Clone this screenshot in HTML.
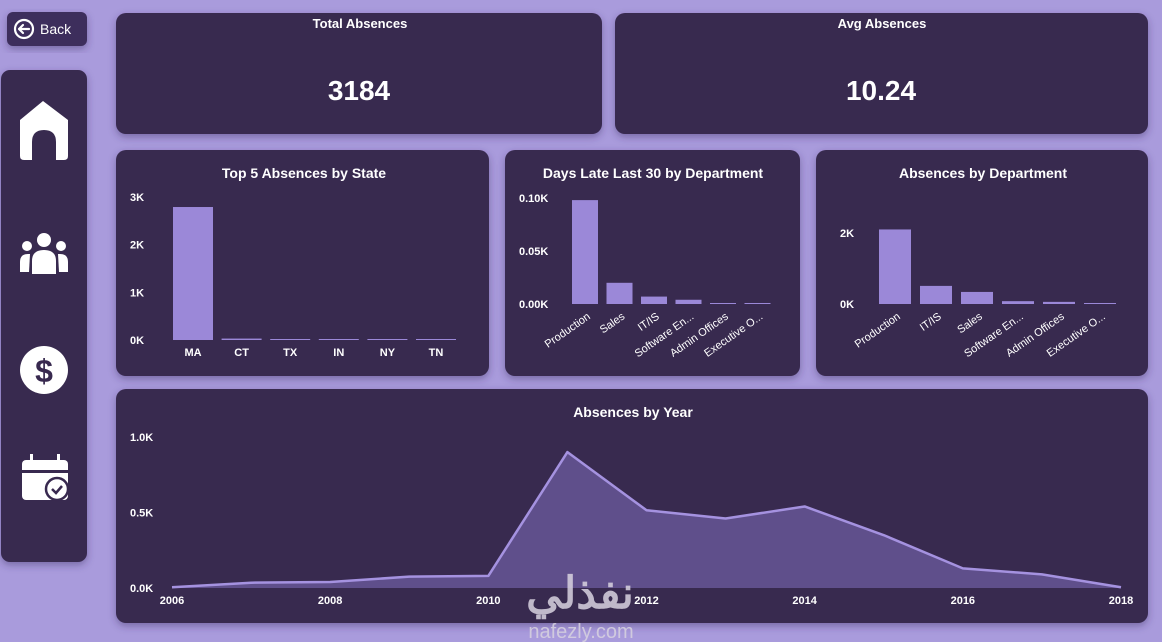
<!DOCTYPE html>
<html><head><meta charset="utf-8">
<style>
html,body{margin:0;padding:0;width:1162px;height:642px;overflow:hidden;background:#a99bdc;font-family:"Liberation Sans",sans-serif;}
svg text{font-family:"Liberation Sans","Noto Sans CJK SC",sans-serif;}
</style></head>
<body>
<svg id="dash" width="1162" height="642" viewBox="0 0 1162 642" xmlns="http://www.w3.org/2000/svg">
<defs>
<filter id="sh" x="-10%" y="-10%" width="120%" height="130%"><feDropShadow dx="0" dy="3" stdDeviation="4" flood-color="#3a2b60" flood-opacity="0.45"/></filter>
</defs>
<rect width="1162" height="642" fill="#a99bdc"/>
<!-- back button -->
<g>
<rect x="7" y="12" width="80" height="34" rx="6" fill="#3d2e5c" filter="url(#sh)"/>
<circle cx="24" cy="29" r="9" fill="none" stroke="#fff" stroke-width="2.2"/>
<path d="M29 29 H19 M23 25 L19 29 L23 33" stroke="#fff" stroke-width="2.2" fill="none" stroke-linecap="round" stroke-linejoin="round"/>
<text x="40" y="34" fill="#fff" font-size="14">Back</text>
</g>
<!-- sidebar -->
<g>
<rect x="1" y="70" width="86" height="492" rx="9" fill="#38294f" filter="url(#sh)"/>
</g>
<g>
<path d="M20 120 L43 101 L68 120 L68 156 Q68 160 64 160 L56 160 L56 142 Q56 130 44 130 Q32 130 32 142 L32 160 L24 160 Q20 160 20 156 Z" fill="#fff"/>
</g>
<g fill="#fff">
<circle cx="44" cy="240" r="7"/><circle cx="27" cy="246" r="5"/><circle cx="61" cy="246" r="5"/>
<path d="M32 274 L32 261 Q32 250 44 250 Q56 250 56 261 L56 274 Z"/>
<path d="M20 272 L20 262 Q20 254 28 254 L30 254 L29 272 Z"/>
<path d="M68 272 L68 262 Q68 254 60 254 L58 254 L59 272 Z"/>
</g>
<g>
<circle cx="44" cy="370" r="24" fill="#fff"/>
<text x="44" y="382" text-anchor="middle" fill="#38294f" font-size="32" font-weight="bold">$</text>
</g>
<g>
<rect x="22" y="460" width="46" height="40" rx="4" fill="#fff"/>
<rect x="22" y="470" width="46" height="3" fill="#38294f"/>
<rect x="30" y="454" width="3" height="12" fill="#fff"/><rect x="57" y="454" width="3" height="12" fill="#fff"/>
<circle cx="57" cy="489" r="11" fill="#fff" stroke="#38294f" stroke-width="2.5"/>
<path d="M52 489 L56 493 L62 486" stroke="#38294f" stroke-width="2.5" fill="none"/>
</g>
<!-- cards -->
<g>
<rect x="116" y="13" width="486" height="121" rx="10" fill="#38294f" filter="url(#sh)"/>
<text x="360" y="28" text-anchor="middle" fill="#fff" font-size="13" font-weight="bold">Total Absences</text>
<text x="359" y="100" text-anchor="middle" fill="#fff" font-size="28" font-weight="bold">3184</text>
</g>
<g>
<rect x="615" y="13" width="533" height="121" rx="10" fill="#38294f" filter="url(#sh)"/>
<text x="882" y="28" text-anchor="middle" fill="#fff" font-size="13" font-weight="bold">Avg Absences</text>
<text x="881" y="100" text-anchor="middle" fill="#fff" font-size="28" font-weight="bold">10.24</text>
</g>
<g>
<rect x="116" y="150" width="373" height="226" rx="10" fill="#38294f" filter="url(#sh)"/>
<text x="304" y="178" text-anchor="middle" fill="#fff" font-size="14" font-weight="bold">Top 5 Absences by State</text>
<g id="stateG"></g>
</g>
<g>
<rect x="505" y="150" width="295" height="226" rx="10" fill="#38294f" filter="url(#sh)"/>
<text x="653" y="178" text-anchor="middle" fill="#fff" font-size="14" font-weight="bold">Days Late Last 30 by Department</text>
<g id="lateG"></g>
</g>
<g>
<rect x="816" y="150" width="332" height="226" rx="10" fill="#38294f" filter="url(#sh)"/>
<text x="983" y="178" text-anchor="middle" fill="#fff" font-size="14" font-weight="bold">Absences by Department</text>
<g id="deptG"></g>
</g>
<g>
<rect x="116" y="389" width="1032" height="234" rx="10" fill="#38294f" filter="url(#sh)"/>
<text x="633" y="417" text-anchor="middle" fill="#fff" font-size="14" font-weight="bold">Absences by Year</text>
<g id="yearG"></g>
</g>
<g opacity="0.85">
<text x="580" y="608" text-anchor="middle" fill="#d8d3e0" font-size="44" font-weight="bold">نفذلي</text>
<text x="581" y="638" text-anchor="middle" fill="#d8d3e0" font-size="20">nafezly.com</text>
</g>
</svg>
<script>
const stateCats=["MA","CT","TX","IN","NY","TN"];
const stateVals=[2790,30,20,10,10,10];
const stateTicks=[0,1000,2000,3000];
const stateTickLabels=["0K","1K","2K","3K"];
const lateCats=["Production","Sales","IT/IS","Software En...","Admin Offices","Executive O..."];
const lateVals=[98,20,7,4,0,0];
const lateTicks=[0,50,100];
const lateTickLabels=["0.00K","0.05K","0.10K"];
const deptCats=["Production","IT/IS","Sales","Software En...","Admin Offices","Executive O..."];
const deptVals=[2100,510,340,80,60,20];
const deptTicks=[0,2000];
const deptTickLabels=["0K","2K"];
const years=[2006,2007,2008,2009,2010,2011,2012,2013,2014,2015,2016,2017,2018];
const yearVals=[5,35,40,75,80,900,515,460,540,350,130,90,5];
const yearTicks=[0,500,1000];
const yearTickLabels=["0.0K","0.5K","1.0K"];
const yearLabelYears=[2006,2008,2010,2012,2014,2016,2018];

const NS="http://www.w3.org/2000/svg";
function mk(tag,attrs,parent){const e=document.createElementNS(NS,tag);for(const k in attrs)e.setAttribute(k,attrs[k]);parent.appendChild(e);return e;}

function barChart(gid,cats,vals,ticks,tlabels,o){
  const g=document.getElementById(gid);
  const y=v=>o.y0-(v-0)/(o.vmax)*(o.y0-o.ytop);
  ticks.forEach((t,i)=>{
    const tx=mk('text',{x:o.tickX,y:y(t)+4,fill:'#fff','font-size':11,'font-weight':'bold'},g);
    tx.textContent=tlabels[i];
    
    
  });
  cats.forEach((c,i)=>{
    const cx=o.x0+i*o.step;
    const h=Math.max(o.y0-y(vals[i]),1);
    const r=mk('rect',{x:cx-o.bw/2,y:o.y0-h,width:o.bw,height:h,fill:'#9b88d8'},g);
    
    
    let t;
    if(o.rot){
      t=mk('text',{x:cx+6,y:o.y0+14,fill:'#fff','font-size':11,'text-anchor':'end',transform:`rotate(-35 ${cx+6} ${o.y0+14})`},g);
    }else{
      t=mk('text',{x:cx,y:o.y0+16,fill:'#fff','font-size':11,'font-weight':'bold','text-anchor':'middle'},g);
    }
    t.textContent=c;
    
    
  });
}
barChart('stateG',stateCats,stateVals,stateTicks,stateTickLabels,{y0:340,ytop:197,vmax:3000,x0:193,step:48.6,bw:40,tickX:130,rot:false});
barChart('lateG',lateCats,lateVals,lateTicks,lateTickLabels,{y0:304,ytop:198,vmax:100,x0:585,step:34.5,bw:26,tickX:519,rot:true});
barChart('deptG',deptCats,deptVals,deptTicks,deptTickLabels,{y0:304,ytop:233,vmax:2000,x0:895,step:41,bw:32,tickX:840,rot:true});

(function(){
  const g=document.getElementById('yearG');
  const x=yr=>172+(yr-2006)/(2018-2006)*(1121-172);
  const y=v=>588-v/1000*(588-437);
  yearTicks.forEach((t,i)=>{
    const tx=mk('text',{x:130,y:y(t)+4,fill:'#fff','font-size':11,'font-weight':'bold'},g);
    tx.textContent=yearTickLabels[i];
    
    
  });
  let d='M'+x(years[0])+' '+y(0);
  let l='';
  years.forEach((yr,i)=>{d+=' L'+x(yr)+' '+y(yearVals[i]);l+=(i?' L':'M')+x(yr)+' '+y(yearVals[i]);});
  d+=' L'+x(years[years.length-1])+' '+y(0)+' Z';
  const a=mk('path',{d:d,fill:'#5f4f8b'},g);
  
  
  const p=mk('path',{d:l,fill:'none',stroke:'#a592e0','stroke-width':2.5,'stroke-linejoin':'round'},g);
  
  
  yearLabelYears.forEach(yr=>{
    const t=mk('text',{x:x(yr),y:604,fill:'#fff','font-size':11,'font-weight':'bold','text-anchor':'middle'},g);
    t.textContent=yr;
    
    
  });
})();
</script>
</body></html>
